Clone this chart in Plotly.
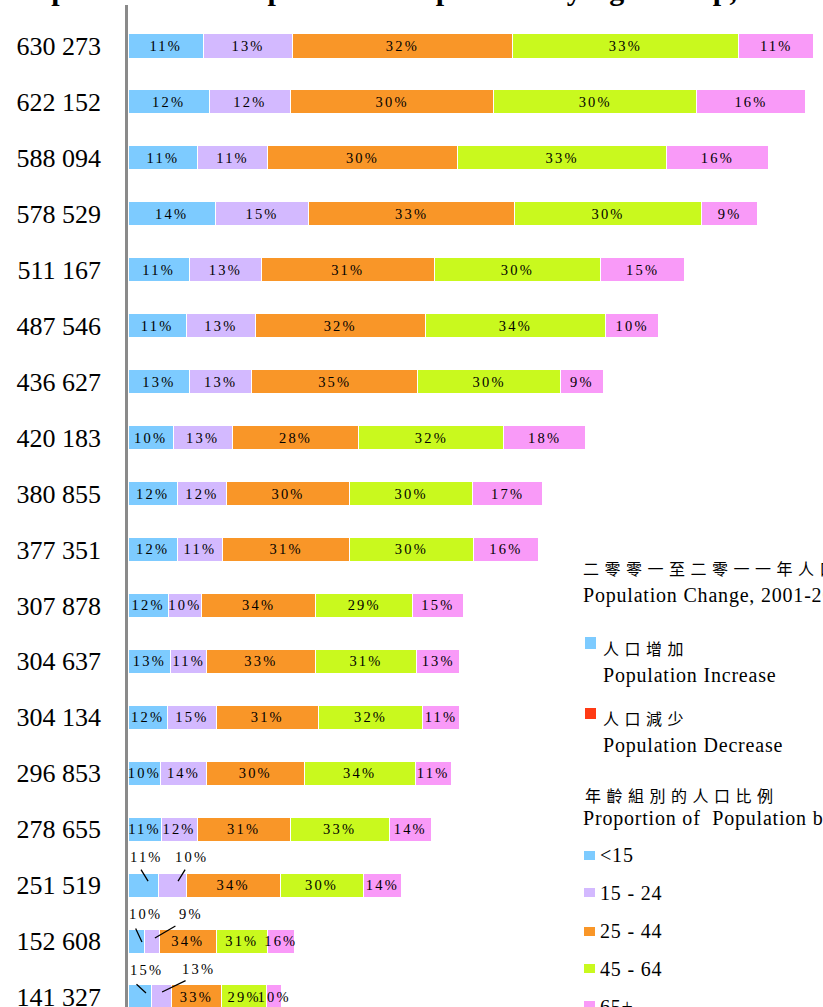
import plotly.graph_objects as go

# ---------------- data ----------------
population = [630273, 622152, 588094, 578529, 511167, 487546, 436627, 420183, 380855,
              377351, 307878, 304637, 304134, 296853, 278655, 251519, 152608, 141327]
pct_under15 = [11, 12, 11, 14, 11, 11, 13, 10, 12, 12, 12, 13, 12, 10, 11, 11, 10, 15]
pct_15_24 = [13, 12, 11, 15, 13, 13, 13, 13, 12, 11, 10, 11, 15, 14, 12, 10, 9, 13]
pct_25_44 = [32, 30, 30, 33, 31, 32, 35, 28, 30, 31, 34, 33, 31, 30, 31, 34, 34, 33]
pct_45_64 = [33, 30, 33, 30, 30, 34, 30, 32, 30, 30, 29, 31, 32, 34, 33, 30, 31, 29]
pct_65plus = [11, 16, 16, 9, 15, 10, 9, 18, 17, 16, 15, 13, 11, 11, 14, 14, 16, 10]
age_groups = ["<15", "15 - 24", "25 - 44", "45 - 64", "65+"]
tick_labels = [f"{p:,}".replace(",", " ") for p in population]

# ---------------- styling ----------------
colors = ["#7DCBFF", "#D3B9FF", "#F99628", "#C9F91E", "#F99AF8"]
decrease_color = "#FF3A14"
SERIF = "Liberation Serif, Times New Roman, serif"
CJK = "Noto Sans CJK TC, Noto Sans CJK SC, sans-serif"
PCT_SIZE = 14.5

shares = [pct_under15, pct_15_24, pct_25_44, pct_45_64, pct_65plus]
n = len(population)
totals = [sum(s[i] for s in shares) for i in range(n)]
values = [[population[i] * s[i] / totals[i] for i in range(n)] for s in shares]

# labels drawn outside with leader lines: (row, group) -> (tip frac, tip dy px, line dx, line dy, text dx, text dy)
callouts = {
    (15, 0): (0.66, -4, -8, -13, -2, 24),
    (15, 1): (0.71, -4, 8, -13, 13, 24),
    (16, 0): (0.84, 1, -7, -15, 4, 28),
    (16, 1): (0.69, -3, 22, -13, 36, 24),
    (17, 0): (0.78, -4, -11, -10, 0, 23),
    (17, 1): (0.55, -5, 25, -12, 36, 23),
}

L, T, W, H = 128, 5, 695, 1002
y_top, y_bot = -0.733, 17.179
row_px = H / (y_bot - y_top)
x_max = 638550


def xp(px):
    return (px - L) / W


def yp(py):
    return 1 - (py - T) / H


def spaced(txt, sp):
    return f"<span style='letter-spacing:{sp}px'>{txt}</span>"


fig = go.Figure()
for g in range(5):
    texts = ["" if (i, g) in callouts else f"{shares[g][i]}%" for i in range(n)]
    fig.add_trace(go.Bar(
        x=values[g], y=list(range(n)), orientation="h",
        marker=dict(color=colors[g], line=dict(color="white", width=1)),
        text=texts, texttemplate=spaced("%{text}", 2.2),
        textposition="inside", insidetextanchor="middle", constraintext="none", textangle=0,
        textfont=dict(family=SERIF, size=PCT_SIZE, color="black"),
        insidetextfont=dict(family=SERIF, size=PCT_SIZE, color="black"),
        width=0.43, name=age_groups[g], showlegend=False, hoverinfo="skip", cliponaxis=False,
    ))

annotations = []
for (i, g), (frac, tdy, ldx, ldy, tx, ty) in callouts.items():
    start = sum(values[k][i] for k in range(g))
    tip_x = start + frac * values[g][i]
    tip_y = i + tdy / row_px
    annotations.append(dict(x=tip_x, y=tip_y, xref="x", yref="y", text="", showarrow=True,
                            arrowhead=0, arrowwidth=1.3, arrowcolor="black", ax=ldx, ay=ldy,
                            standoff=0, startstandoff=0, font=dict(size=1)))
    annotations.append(dict(x=tip_x, y=tip_y, xref="x", yref="y", text=spaced(f"{shares[g][i]}%", 2.2),
                            showarrow=False, xshift=tx, yshift=ty,
                            font=dict(family=SERIF, size=PCT_SIZE, color="black")))

# title (mostly cropped at top)
annotations.append(dict(x=xp(16), y=yp(-10), xref="paper", yref="paper", xanchor="left", yanchor="middle",
                        text="<b>Population and Proportion of Population by Age Group, 2011</b>",
                        showarrow=False, font=dict(family=SERIF, size=30, color="black")))


def legend_text(px, py, txt, cjk=False):
    if cjk:
        annotations.append(dict(x=xp(px), y=yp(py), xref="paper", yref="paper", xanchor="left",
                                yanchor="middle", text=spaced(txt, 5.5), showarrow=False,
                                font=dict(family=CJK, size=16, color="black")))
    else:
        annotations.append(dict(x=xp(px), y=yp(py), xref="paper", yref="paper", xanchor="left",
                                yanchor="middle", text=spaced(txt, 0.8), showarrow=False,
                                font=dict(family=SERIF, size=20, color="black")))


shapes = []


def square(px0, py0, px1, py1, color):
    shapes.append(dict(type="rect", xref="paper", yref="paper", x0=xp(px0), x1=xp(px1),
                       y0=yp(py1), y1=yp(py0), fillcolor=color, line=dict(width=0)))


legend_text(581, 568, "二零零一至二零一一年人口變動", cjk=True)
legend_text(581, 595, "Population Change, 2001-2011")
square(585, 637, 596, 649, colors[0])
legend_text(601, 648, "人口增加", cjk=True)
legend_text(601, 675, "Population Increase")
square(585, 708, 596, 719, decrease_color)
legend_text(601, 718, "人口減少", cjk=True)
legend_text(601, 745, "Population Decrease")
legend_text(583, 795, "年齡組別的人口比例", cjk=True)
legend_text(581, 818, "Proportion of\u00a0 Population by Age Group")
for k, (sy, ty) in enumerate([(851, 855), (888, 893), (927, 931), (964, 969), (1001, 1007)]):
    square(584, sy, 595, sy + 9, colors[k])
    legend_text(598, ty, age_groups[k])

fig.update_layout(
    barmode="stack",
    width=823, height=1007,
    margin=dict(l=L, r=823 - L - W, t=T, b=1007 - T - H, pad=0, autoexpand=False),
    paper_bgcolor="white", plot_bgcolor="white",
    xaxis=dict(range=[0, x_max], visible=False, fixedrange=True, automargin=False),
    yaxis=dict(range=[y_bot, y_top], tickvals=list(range(n)), ticktext=tick_labels,
               showline=True, linecolor="#8a8a8a", linewidth=2.5, showgrid=False, zeroline=False,
               ticks="", ticklabelstandoff=19, ticklabeloverflow="allow", fixedrange=True,
               automargin=False,
               tickfont=dict(family=SERIF, size=26, color="black")),
    annotations=annotations, shapes=shapes,
)

fig.write_html("out.html", config={"displayModeBar": False},
               post_script="document.body.style.margin='0px';document.body.style.overflow='hidden';")
